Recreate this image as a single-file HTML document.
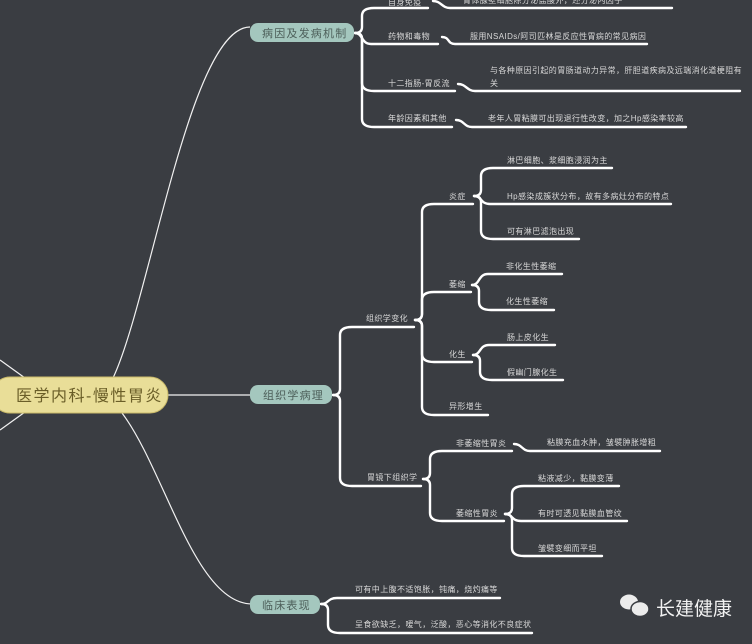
<!DOCTYPE html>
<html><head><meta charset="utf-8">
<style>
html,body{margin:0;padding:0;background:#3a3d42;}
svg{display:block;}
text{font-family:"Liberation Sans","Noto Sans CJK SC",sans-serif;}
.s{fill:#d8d8d8;font-size:8px;letter-spacing:0.4px;}
.n{fill:#4d5f5a;font-size:11px;letter-spacing:1.2px;}
</style></head><body>
<svg id="g" width="752" height="644" viewBox="0 0 752 644" xmlns="http://www.w3.org/2000/svg">
<rect width="752" height="644" fill="#3a3d42"/>
<g id="lines" fill="none" stroke="#fff" stroke-width="2.4" stroke-linecap="round"></g>
<g fill="none" stroke="#f2f2f2" stroke-width="1.2">
<path d="M113 378 C150 300 190 27 250 27"/>
<path d="M168 395 L250 395"/>
<path d="M122 413 C165 470 195 604 252 604"/>
<path d="M25 378 L0 360"/>
<path d="M25 412 L0 430"/>
</g>
<rect x="-8" y="377" width="176" height="36" rx="18" fill="#e9de98" stroke="#c9b96a" stroke-width="1"/>
<text x="16" y="401" style="font-size:16px;fill:#6a5e28;letter-spacing:1.5px">医学内科-慢性胃炎</text>
<rect x="250" y="23" width="104" height="19" rx="8" fill="#a4c7be"/>
<text x="262" y="37" class="n">病因及发病机制</text>
<rect x="250" y="385" width="82" height="19" rx="8" fill="#a4c7be"/>
<text x="263" y="399" class="n">组织学病理</text>
<rect x="250" y="595" width="70" height="19" rx="8" fill="#a4c7be"/>
<text x="262" y="609" class="n">临床表现</text>

<text x="388" y="5" class="s">自身免疫</text>
<text x="463" y="3" class="s">胃体腺壁细胞除分泌盐酸外，还分泌内因子</text>
<text x="388" y="39" class="s">药物和毒物</text>
<text x="470" y="39" class="s">服用NSAIDs/阿司匹林是反应性胃病的常见病因</text>
<text x="388" y="86" class="s">十二指肠-胃反流</text>
<text x="490" y="73" class="s">与各种原因引起的胃肠道动力异常，肝胆道疾病及远端消化道梗阻有</text>
<text x="490" y="86" class="s">关</text>
<text x="388" y="121" class="s">年龄因素和其他</text>
<text x="488" y="121" class="s">老年人胃粘膜可出现退行性改变，加之Hp感染率较高</text>

<text x="366" y="321" class="s">组织学变化</text>
<text x="367" y="480" class="s">胃镜下组织学</text>
<text x="449" y="199" class="s">炎症</text>
<text x="449" y="287" class="s">萎缩</text>
<text x="449" y="357" class="s">化生</text>
<text x="449" y="409" class="s">异形增生</text>
<text x="507" y="163" class="s">淋巴细胞、浆细胞浸润为主</text>
<text x="507" y="199" class="s">Hp感染成簇状分布，故有多病灶分布的特点</text>
<text x="507" y="234" class="s">可有淋巴滤泡出现</text>
<text x="506" y="269" class="s">非化生性萎缩</text>
<text x="506" y="304" class="s">化生性萎缩</text>
<text x="507" y="340" class="s">肠上皮化生</text>
<text x="507" y="375" class="s">假幽门腺化生</text>
<text x="456" y="446" class="s">非萎缩性胃炎</text>
<text x="456" y="516" class="s">萎缩性胃炎</text>
<text x="547" y="445" class="s">粘膜充血水肿，皱襞肿胀增粗</text>
<text x="538" y="481" class="s">粘液减少，黏膜变薄</text>
<text x="538" y="516" class="s">有时可透见黏膜血管纹</text>
<text x="538" y="551" class="s">皱襞变细而平坦</text>
<text x="355" y="592" class="s">可有中上腹不适饱胀，钝痛，烧灼痛等</text>
<text x="355" y="627" class="s">呈食欲缺乏，嗳气，泛酸，恶心等消化不良症状</text>

<g fill="#ececec">
<ellipse cx="629" cy="602" rx="9" ry="7.5"/>
<ellipse cx="640" cy="609" rx="9" ry="7.5" stroke="#3a3d42" stroke-width="1.5"/>
</g>
<text x="656" y="615" style="font-size:19px;fill:#f2f2f2">长建健康</text>
</svg>
<script>
var L=document.getElementById('lines'),d=[];
function br(bx,by,y,sx,ex){
  var x=bx+7,r=8,dy=y-by;
  if(Math.abs(dy)<14){d.push('M'+bx+' '+by+' C'+(bx+8)+' '+by+' '+(bx+6)+' '+y+' '+(bx+16)+' '+y+' L'+ex+' '+y);return;}
  var s=dy>0?1:-1;
  d.push('M'+bx+' '+by+' Q'+x+' '+by+' '+x+' '+(by+s*6)+' L'+x+' '+(y-s*r)+' Q'+x+' '+y+' '+(x+r+4)+' '+y+' L'+ex+' '+y);
}
function sc(lx,y,sx,ex){
  d.push('M'+lx+' '+(y-7)+' C'+(lx+8)+' '+(y-7)+' '+(sx-8)+' '+y+' '+sx+' '+y+' L'+ex+' '+y);
}
br(355,33,8,0,428);br(355,33,44,0,438);br(355,33,91,0,455);br(355,33,127,0,452);
sc(433,8,450,672);sc(442,44,455,647);sc(458,91,475,740);sc(456,127,472,686);
br(333,395,327,0,414);br(333,395,486,0,421);
br(415,320,204,0,473);br(415,320,292,0,471);br(415,320,362,0,472);br(415,320,415,0,488);
br(474,196,168,0,612);br(474,196,204,0,671);br(474,196,239,0,579);
br(472,285,274,0,562);br(472,285,310,0,554);
br(473,355,345,0,555);br(473,355,380,0,563);
br(423,479,451,0,512);br(423,479,521,0,504);
sc(514,451,530,660);
br(505,514,486,0,619);br(505,514,521,0,627);br(505,514,556,0,602);
br(321,604,598,0,500);br(321,604,633,0,532);
d.forEach(function(p){var e=document.createElementNS('http://www.w3.org/2000/svg','path');e.setAttribute('d',p);L.appendChild(e);});
</script>
</body></html>
